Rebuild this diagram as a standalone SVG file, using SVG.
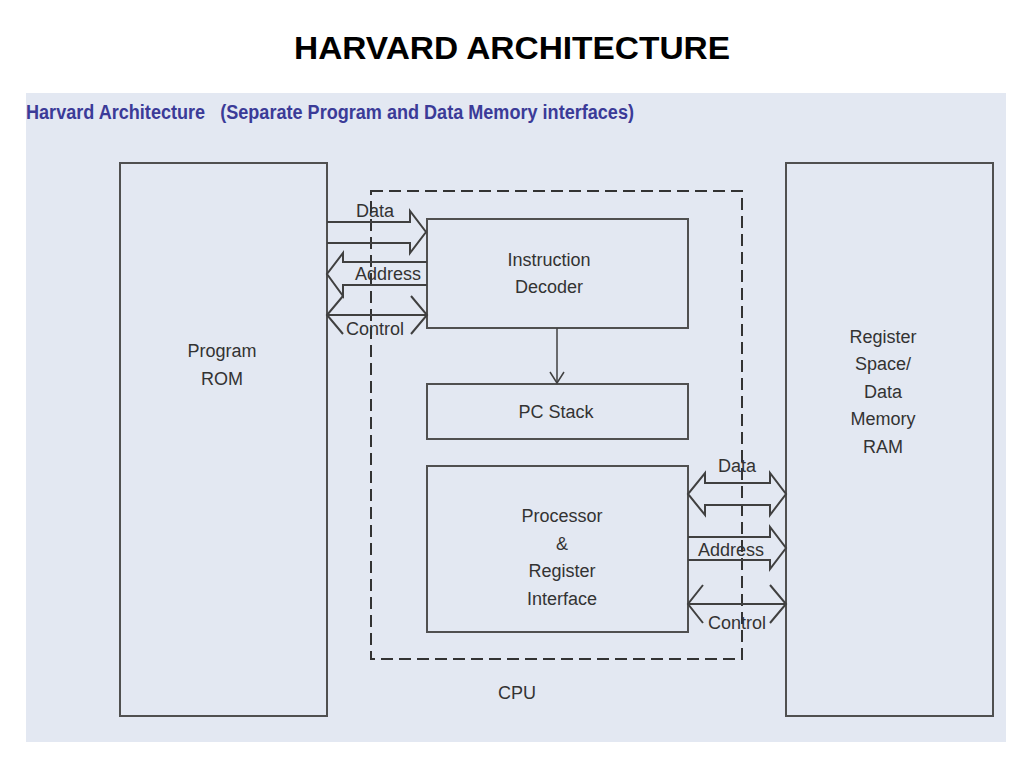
<svg xmlns="http://www.w3.org/2000/svg" width="1024" height="768" viewBox="0 0 1024 768">
<style>
.box{fill:#e3e8f2;stroke:#505050;stroke-width:2}
.t{font-family:"Liberation Sans",Arial,sans-serif;font-size:18px;fill:#333;text-anchor:middle}
.ln{fill:none;stroke:#404040;stroke-width:2;stroke-linejoin:miter}
.thin{fill:none;stroke:#404040;stroke-width:1.5}
</style>
<rect width="1024" height="768" fill="#fff"/>
<text x="512" y="59" font-family="Liberation Sans,Arial,sans-serif" font-weight="bold" font-size="31" fill="#000" text-anchor="middle" textLength="436" lengthAdjust="spacingAndGlyphs">HARVARD ARCHITECTURE</text>
<rect x="26" y="93" width="980" height="649" fill="#e3e8f2"/>
<text x="26" y="119" font-family="Liberation Sans,Arial,sans-serif" font-weight="bold" font-size="20" fill="#3b3b98" textLength="608" lengthAdjust="spacingAndGlyphs" xml:space="preserve">Harvard Architecture   (Separate Program and Data Memory interfaces)</text>

<g id="program-rom"><rect class="box" x="120" y="163" width="207" height="553"/>
<text class="t" x="222" y="357">Program</text><text class="t" x="222" y="385">ROM</text></g>
<g id="data-memory"><rect class="box" x="786" y="163" width="207" height="553"/>
<text class="t" x="883" y="343">Register</text><text class="t" x="883" y="370">Space/</text><text class="t" x="883" y="398">Data</text><text class="t" x="883" y="425">Memory</text><text class="t" x="883" y="453">RAM</text></g>
<g id="cpu"><rect x="371" y="191" width="371" height="468" fill="none" stroke="#333" stroke-width="2" stroke-dasharray="12,6"/>
<text class="t" x="517" y="699">CPU</text></g>
<g id="instruction-decoder"><rect class="box" x="427" y="219" width="261" height="109"/>
<text class="t" x="549" y="266">Instruction</text><text class="t" x="549" y="293">Decoder</text></g>
<g id="pc-stack"><rect class="box" x="427" y="384" width="261" height="55"/>
<text class="t" x="556" y="418">PC Stack</text></g>
<g id="processor"><rect class="box" x="427" y="466" width="261" height="166"/>
<text class="t" x="562" y="522">Processor</text><text class="t" x="562" y="550">&amp;</text><text class="t" x="562" y="577">Register</text><text class="t" x="562" y="605">Interface</text></g>

<g id="connectors">
<line class="thin" x1="557" y1="328" x2="557" y2="383"/>
<polyline class="thin" points="550,372 557,383 564,372"/>
<!-- left data -->
<path class="ln" d="M327,222 H410 V211 L426,232 L410,253 V243 H327"/>
<!-- left address -->
<path class="ln" d="M427,262 H343 V253 L327,274 L343,296 V285 H427"/>
<!-- left control -->
<line class="ln" x1="327" y1="315" x2="427" y2="315"/>
<polyline class="ln" points="343,296 327,315 343,334"/>
<polyline class="ln" points="411,296 427,315 411,334"/>
<!-- right data -->
<path class="ln" d="M705,483 H770 V473 L786,494 L770,515 V505 H705 V515 L688,494 L705,473 Z"/>
<!-- right address -->
<path class="ln" d="M688,537 H770 V527 L786,548 L770,569 V560 H688"/>
<!-- right control -->
<line class="ln" x1="688" y1="604" x2="786" y2="604"/>
<polyline class="ln" points="703,585 688,604 703,623"/>
<polyline class="ln" points="770,585 786,604 770,623"/>
<text class="t" x="375" y="217">Data</text>
<text class="t" x="388" y="280">Address</text>
<text class="t" x="375" y="335">Control</text>
<text class="t" x="737" y="472">Data</text>
<text class="t" x="731" y="556">Address</text>
<text class="t" x="737" y="629">Control</text>
</g>
</svg>
